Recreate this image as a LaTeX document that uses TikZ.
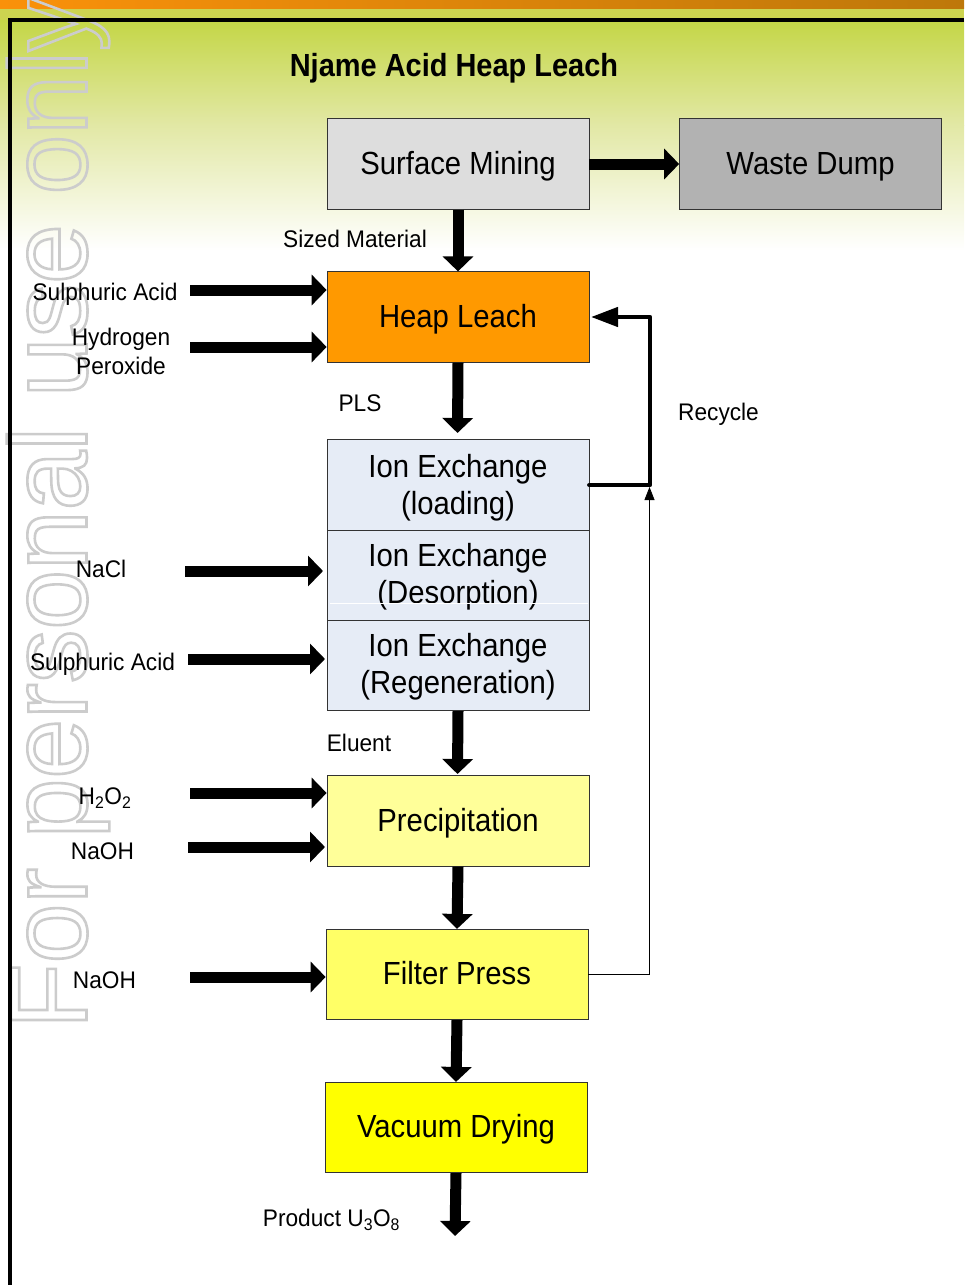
\documentclass[tikz,border=0pt]{standalone}
\usepackage{fontspec}
\setmainfont{Liberation Sans}
\newfontfamily\boxfont[FakeStretch=.915]{Liberation Sans}
\newfontfamily\labfont[FakeStretch=.945]{Liberation Sans}
\newfontfamily\ttlfont[FakeStretch=.905]{Liberation Sans}
\newfontfamily\wmfont[FakeStretch=.975]{Liberation Sans}
\usetikzlibrary{arrows.meta,calc}
\definecolor{bandorange}{RGB}{250,145,10}
\definecolor{banddark}{RGB}{190,120,10}
\definecolor{bandgreen}{RGB}{205,212,80}
\definecolor{leaf}{RGB}{196,214,70}
\definecolor{paleleaf}{RGB}{226,232,165}
\definecolor{ixblue}{RGB}{230,236,246}
\newcommand{\onel}{\rule[-7pt]{0pt}{34pt}}
\newcommand{\twol}[1]{\rule{0pt}{#1pt}}
\tikzset{
 x=1pt,y=-1pt,
 box/.style={draw=black!80,line width=.7pt,minimum width=262pt,minimum height=90.5pt,inner sep=0pt,align=center,font=\boxfont\fontsize{32}{37}\selectfont},
 lab/.style={inner sep=0pt,align=center,font=\labfont\fontsize{24}{29}\selectfont},
 flow/.style={line width=11pt,-{Triangle[length=15pt,width=30pt]}},
 flowthin/.style={line width=.8pt,-{Triangle[length=13pt,width=10pt]}},
 recyc/.style={line width=4.5pt,line cap=round,line join=round,-{Triangle[length=27pt,width=19pt]}},
 frame/.style={line width=4.5pt,draw=black},
}
\begin{document}
\begin{tikzpicture}
\useasboundingbox (0,0) rectangle (964,1285);
\fill[white] (0,0) rectangle (964,1285);
\shade[top color=leaf,bottom color=paleleaf] (0,20) rectangle (964,125);
\shade[top color=paleleaf,bottom color=white] (0,125) rectangle (964,250);
\fill[bandgreen] (0,7) rectangle (964,20);
\shade[left color=bandorange,right color=banddark] (0,0) rectangle (964,8);
% watermark
\node[rotate=90,anchor=base west,inner sep=0pt,font=\wmfont\fontsize{110}{110}\selectfont] (wmtext) at (86.5,1029)
 {\special{pdf:code q 1 Tr 2.6 w 0.8 0.8 0.8 RG}For personal use only\special{pdf:code Q}};
\draw[frame] (10,1285) -- (10,20) -- (964,20);
% boxes
\node[box,fill={rgb,255:red,221;green,221;blue,221}] (mine) at (458,164) {\onel Surface Mining};
\node[box,fill={rgb,255:red,178;green,178;blue,178}] (waste) at (810.5,164) {\onel Waste Dump};
\node[box,fill={rgb,255:red,255;green,153;blue,0}] (heap) at (458,317) {\onel Heap Leach};
\node[box,fill=ixblue] (ix1) at (458,485) {\twol{29}Ion Exchange\\(loading)};
\node[box,fill=ixblue] (ix2) at (458,575.5) {\twol{25}Ion Exchange\\(Desorption)};
\node[box,fill=ixblue] (ix3) at (458,665.5) {\twol{26}Ion Exchange\\(Regeneration)};
\node[box,fill={rgb,255:red,255;green,255;blue,153}] (prec) at (458,821) {\onel Precipitation};
\node[box,fill={rgb,255:red,255;green,255;blue,102}] (filt) at (457,974.5) {\onel Filter Press};
\node[box,fill={rgb,255:red,255;green,255;blue,0}] (vac) at (456,1127.5) {\onel Vacuum Drying};
\draw[white,line width=.5pt] (330,603.5) -- (588,603.5);
% labels
\node[lab,font=\ttlfont\fontsize{32}{37}\selectfont\bfseries] (title) at (454,68) {Njame Acid Heap Leach};
\node[lab] (lsized) at (355,239) {Sized Material};
\node[lab] (lpls) at (360,403) {PLS};
\node[lab] (lrec) at (718.5,414) {Recycle};
\node[lab] (lsa1) at (105,294) {Sulphuric Acid};
\node[lab] (lhp) at (121,351.5) {Hydrogen\\Peroxide};
\node[lab] (lnacl) at (101,569) {NaCl};
\node[lab] (lsa2) at (102.5,664) {Sulphuric Acid};
\node[lab] (lh2o2) at (105,798) {H\textsubscript{2}O\textsubscript{2}};
\node[lab] (lnaoh1) at (102.5,851) {NaOH};
\node[lab] (lnaoh2) at (104.5,980) {NaOH};
\node[lab] (lelu) at (359,743) {Eluent};
\node[lab] (lprod) at (331.5,1220) {Product U\textsubscript{3}O\textsubscript{8}};
% free ends
\coordinate (s1) at (190,290);
\coordinate (s2) at (190,347);
\coordinate (s3) at (185,571);
\coordinate (s4) at (188,659);
\coordinate (s5) at (190,793);
\coordinate (s6) at (188,847);
\coordinate (s7) at (190,977);
\coordinate (e3) at (323,571);
\coordinate (e4) at (325,659);
\coordinate (e6) at (325,847);
\coordinate (ixtop) at (457.5,433);
\coordinate (prectop) at (457.5,774);
\coordinate (prodend) at (455,1236);
\coordinate (corner1) at (650,485);
\coordinate (corner2) at (650,317);
\coordinate (heapend) at (591,317);
\coordinate (thinend) at (649.5,487);
\coordinate (thincorner) at (649.5,974.5);
% connectors
\draw[flow] (mine.east) -- (waste.west);
\draw[flow] (mine.south) -- (heap.north);
\draw[flow] (heap.south) -- (ixtop);
\draw[flow] (ix3.south) -- (prectop);
\draw[flow] (prec.south) -- (filt.north);
\draw[flow] (filt.south) -- (vac.north);
\draw[flow] (vac.south) -- (prodend);
\draw[flow] (s1) -- (s1 -| heap.west);
\draw[flow] (s2) -- (s2 -| heap.west);
\draw[flow] (s3) -- (e3);
\draw[flow] (s4) -- (e4);
\draw[flow] (s5) -- (s5 -| prec.west);
\draw[flow] (s6) -- (e6);
\draw[flow] (s7) -- (s7 -| filt.west);
\draw[flowthin] (filt.east) -- (thincorner) -- (thinend);
\draw[recyc] (ix1.east) -- (corner1) -- (corner2) -- (heapend);
\end{tikzpicture}
\end{document}
